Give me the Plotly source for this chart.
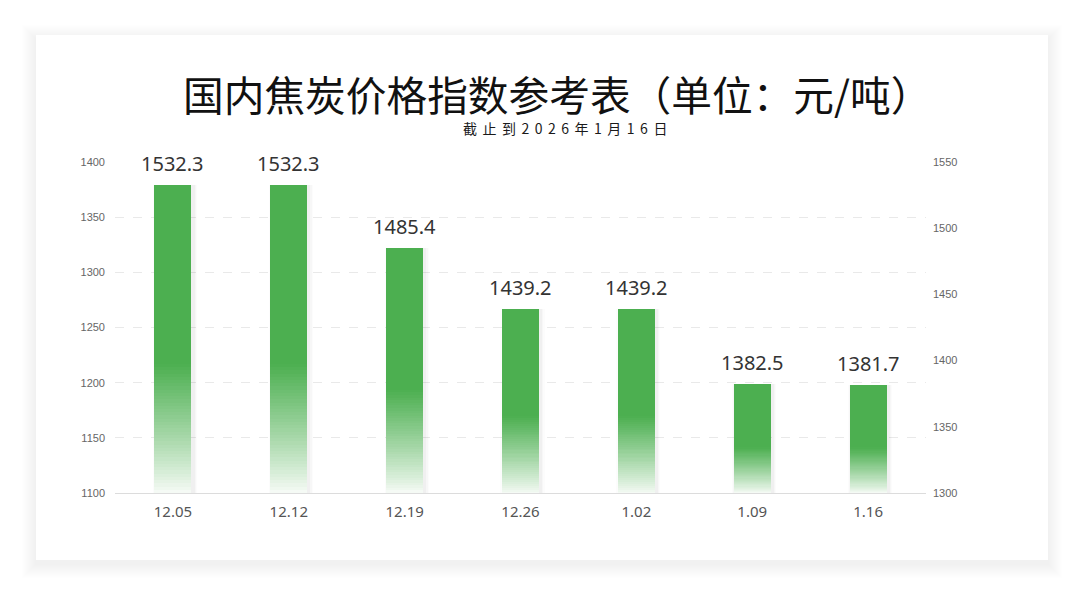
import plotly.graph_objects as go

# ---------------- data ----------------
categories = ["12.05", "12.12", "12.19", "12.26", "1.02", "1.09", "1.16"]
values = [1532.3, 1532.3, 1485.4, 1439.2, 1439.2, 1382.5, 1381.7]
left_ticks = [1100, 1150, 1200, 1250, 1300, 1350, 1400]
right_ticks = [1300, 1350, 1400, 1450, 1500, 1550]
title_text = "国内焦炭价格指数参考表（单位：元/吨）"
subtitle_text = "截止到2026年1月16日"

# ---------------- layout constants ----------------
W, H = 1080, 594
PL, PR, PT, PB = 115, 926, 162, 493      # plot area in px
RIGHT_MIN, RIGHT_MAX = 1300, 1550
LEFT_MIN, LEFT_MAX = 1100, 1400
GREEN = (76, 175, 80)
BAR_W = 0.32


def px_x(px):
    return (px - PL) / (PR - PL)


def px_y(py):
    return (PB - py) / (PB - PT)


def mix(t):
    r = [round(255 + (c - 255) * t) for c in GREEN]
    return f"rgb({r[0]},{r[1]},{r[2]})"


fig = go.Figure()

# invisible trace to anchor left axis
fig.add_trace(go.Scatter(x=categories, y=[None] * len(categories), yaxis="y",
                         mode="markers", showlegend=False, hoverinfo="skip"))

# soft bar shadow
shadow_shift = 2.0 / ((PR - PL) / len(categories))
for k, a in [(0.06, 0.012), (0.04, 0.018), (0.02, 0.026)]:
    fig.add_trace(go.Bar(
        x=categories, y=values, yaxis="y2",
        width=BAR_W + k, offset=-(BAR_W + k) / 2 + shadow_shift,
        marker=dict(color=f"rgba(0,0,0,{a})", line=dict(width=0)),
        showlegend=False, hoverinfo="skip"))

# main bar (solid green)
fig.add_trace(go.Bar(
    x=categories, y=values, yaxis="y2", width=BAR_W,
    marker=dict(color=mix(1.0), line=dict(width=0)),
    showlegend=False, hoverinfo="x+y"))

# gradient bands at the bottom part of each bar
N = 40
FADE = 0.42
for i in range(N):
    f0 = FADE * i / N
    f1 = FADE * (i + 1) / N
    t = (i + 0.5) / N
    base = [RIGHT_MIN + (v - RIGHT_MIN) * f0 for v in values]
    hgt = [(v - RIGHT_MIN) * (f1 - f0) * 1.03 for v in values]
    fig.add_trace(go.Bar(
        x=categories, y=hgt, base=base, yaxis="y2", width=BAR_W,
        marker=dict(color=mix(0.04 + 0.96 * t ** 0.9), line=dict(width=0)),
        showlegend=False, hoverinfo="skip"))

# value labels (x given as category index)
for i, v in enumerate(values):
    fig.add_annotation(x=i, y=v, xref="x", yref="y2", text=f"{v:.1f}",
                       showarrow=False, yanchor="bottom", yshift=6,
                       font=dict(family="Noto Sans, sans-serif", size=20, color="#333333"))

# title / subtitle
fig.add_annotation(x=px_x(557), y=px_y(94), xref="paper", yref="paper",
                   text=title_text, showarrow=False, xanchor="center", yanchor="middle",
                   borderpad=0,
                   font=dict(family="Noto Sans CJK SC", size=40.7, color="#111111"))
fig.add_annotation(x=px_x(568), y=px_y(128), xref="paper", yref="paper",
                   text=f'<span style="letter-spacing:5.5px">{subtitle_text}</span>',
                   showarrow=False, xanchor="center", yanchor="middle",
                   borderpad=0,
                   font=dict(family="Noto Sans CJK SC", size=14, color="#1a1a1a"))

# card with soft shadow
cx0, cy0, cx1, cy1 = 36, 35, 1048, 560
shapes = []
for k in range(14, 0, -1):
    shapes.append(dict(type="rect", xref="paper", yref="paper", layer="below",
                       x0=px_x(cx0 - k), x1=px_x(cx1 + k),
                       y0=px_y(cy1 + k + 4), y1=px_y(cy0 - k + 4),
                       line=dict(width=0), fillcolor="rgba(0,0,0,0.0045)"))
shapes.append(dict(type="rect", xref="paper", yref="paper", layer="below",
                   x0=px_x(cx0), x1=px_x(cx1), y0=px_y(cy1), y1=px_y(cy0),
                   line=dict(width=0), fillcolor="#ffffff"))

fig.update_layout(
    width=W, height=H,
    margin=dict(l=PL, r=W - PR, t=PT, b=H - PB, pad=0),
    paper_bgcolor="#ffffff", plot_bgcolor="rgba(0,0,0,0)",
    barmode="overlay", bargap=0,
    shapes=shapes,
    showlegend=False,
    xaxis=dict(type="category", categoryorder="array", categoryarray=categories,
               range=[-0.5, len(categories) - 0.5],
               showline=True, linecolor="#dcdcdc", linewidth=1,
               showgrid=False, ticks="", ticklabelstandoff=5,
               tickfont=dict(family="Noto Sans, sans-serif", size=15, color="#555555"),
               fixedrange=True),
    yaxis=dict(range=[LEFT_MIN, LEFT_MAX], tickvals=left_ticks,
               showgrid=True, gridcolor="#e9e9e9", griddash="dash", gridwidth=1,
               zeroline=False, showline=False, ticks="", ticklabelstandoff=9,
               tickfont=dict(family="Liberation Sans, Arial, sans-serif", size=11, color="#666666")),
    yaxis2=dict(range=[RIGHT_MIN, RIGHT_MAX], tickvals=right_ticks, overlaying="y",
                side="right", showgrid=False, zeroline=False, showline=False, ticks="",
                ticklabelstandoff=6,
                tickfont=dict(family="Liberation Sans, Arial, sans-serif", size=11, color="#666666")),
)

fig.write_html("out.html", config={"displayModeBar": False},
               post_script="document.body.style.margin='0';document.body.style.overflow='hidden';")
